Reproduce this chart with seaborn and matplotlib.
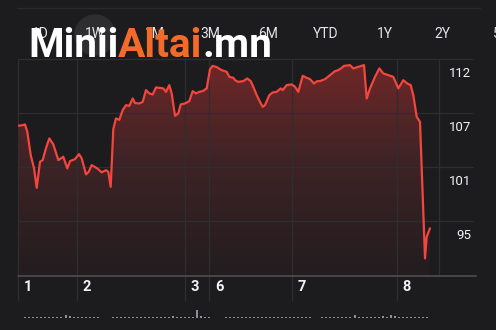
import numpy as np
import pandas as pd
import matplotlib
matplotlib.use("Agg")
import matplotlib.pyplot as plt
import matplotlib.transforms as mtrans
from matplotlib.colors import LinearSegmentedColormap
from matplotlib.patches import Ellipse
from matplotlib.lines import Line2D
import seaborn as sns

# ---------------- data ----------------
time_t = [0.3, 4.7, 7, 9.3, 12.7, 16, 18.7, 22, 24.7, 28,
          31.3, 35.3, 40.3, 45.3, 49.3, 52, 57, 61, 63.7, 68,
          70.7, 73.7, 79.3, 83.7, 88, 90.3, 92.7, 95.3, 98, 101.3,
          104.7, 108, 111.3, 114.7, 117, 121.3, 124.7, 128, 131.3, 134.7,
          138, 141.3, 145.3, 148, 151.3, 153.7, 157, 160.3, 162.7, 167,
          171.3, 174.7, 178, 181.3, 184.7, 188.7, 192, 194.7, 198.7, 203.7,
          208.7, 211.3, 215.3, 217, 220.3, 225.3, 229.3, 232.7, 235.3, 238.7,
          242, 244.7, 247, 251.3, 254.7, 258.7, 262.7, 264.7, 268.7, 273.7,
          277, 280.3, 284.7, 288.7, 292, 296, 299.3, 302, 307, 312,
          317, 320.3, 323.7, 326, 332, 335.3, 340.3, 346, 348.7, 352,
          357, 361.3, 365.3, 370.3, 375.3, 380.3, 385.3, 389.3, 392.7, 395.3,
          398.7, 402, 407, 408.7, 412]
price = [105.26, 105.33, 105.41, 104.63, 102.17, 100.79, 98.71, 101.46, 101.64, 102.91,
         103.93, 103.30, 101.64, 101.99, 100.76, 101.53, 101.74, 102.27, 101.82, 100.13,
         100.40, 101.11, 100.76, 100.34, 100.58, 100.40, 98.82, 104.91, 106.04, 105.89,
         106.92, 107.44, 107.37, 108.15, 107.66, 107.62, 107.79, 109.03, 108.68, 108.57,
         109.31, 109.27, 109.21, 108.85, 109.56, 108.68, 106.31, 106.57, 107.52, 107.62,
         107.87, 108.92, 108.68, 108.85, 108.92, 109.21, 111.24, 111.59, 111.46, 111.14,
         110.96, 110.43, 110.33, 110.08, 109.90, 109.98, 110.26, 109.98, 109.38, 108.50,
         107.79, 107.26, 107.44, 108.50, 108.78, 108.85, 109.21, 109.03, 109.56, 109.63,
         109.38, 108.85, 110.54, 110.33, 110.19, 109.73, 109.98, 109.98, 110.19, 110.61,
         111.03, 111.14, 111.38, 111.59, 111.67, 111.32, 111.49, 111.67, 108.15, 109.21,
         110.43, 111.32, 110.79, 110.61, 110.43, 109.21, 110.08, 109.73, 109.56, 108.50,
         106.21, 105.68, 91.26, 93.54, 94.43]

vol_t = [7, 11, 15, 19, 23, 27, 31, 35, 39, 43, 48, 52, 56, 60, 64, 68, 72, 76, 80,
         95, 99, 103, 107, 111, 115, 119, 123, 127, 131, 135, 139, 143, 147, 151, 155,
         159, 163, 167, 171, 175, 179, 183, 187, 191,
         208, 212, 216, 220, 224, 228, 232, 236, 240, 244, 248, 252, 256, 260, 264,
         268, 272, 276, 280, 284, 288, 292,
         304, 308, 312, 316, 320, 324, 328, 332, 337, 341, 345, 349, 353, 357, 361,
         365, 369, 373, 377, 381, 385, 389, 393, 397, 401, 405, 409]
volume = [1.5, 1, 1.5, 1, 1, 1, 0.8, 1, 1.5, 1.5, 3, 2, 1.5, 1.5, 1, 1, 0.8, 0.7, 0.7,
          1.5, 1, 0.7, 0.7, 0.7, 0.7, 0.8, 0.8, 0.8, 0.8, 1, 1, 1, 1, 1.5, 2,
          1.5, 1.5, 1.5, 1, 1.2, 8, 2, 1, 0.8,
          0.6, 0.6, 0.6, 0.6, 0.6, 0.6, 0.7, 0.7, 0.7, 0.7, 0.8, 0.8, 0.8, 0.8, 1.5,
          0.8, 0.7, 0.7, 0.6, 0.6, 0.6, 0.6,
          0.8, 0.8, 1, 0.8, 0.8, 1, 1, 1.5, 3, 1.5, 1.5, 1.5, 1.5, 1.5, 1.5,
          2, 1.5, 3, 2, 1.5, 1.5, 1.5, 1.2, 1.5, 1.5, 1, 1.5]

day_ticks = [0, 59, 167, 191, 274, 379]
day_labels = ["1", "2", "3", "6", "7", "8"]
session_end = 421
price_ticks = [95.2, 100.9, 106.6, 112.3]
price_labels = ["95", "101", "107", "112"]
range_buttons = ["1D", "1W", "1M", "3M", "6M", "YTD", "1Y", "2Y", "5Y"]
watermark = [("Minii", "#ffffff"), ("Altai", "#f26b2b"), (".mn", "#ffffff")]

# ---------------- style ----------------
BG = "#1c1c1e"
sns.set_style("dark", {"axes.facecolor": BG, "figure.facecolor": BG})
plt.rcParams["font.family"] = ["Roboto", "DejaVu Sans"]

W, H = 496, 330
fig = plt.figure(figsize=(W / 100, H / 100), dpi=100, facecolor=BG)


def fx(px):
    return px / W


def fy(py):
    return 1 - py / H


YLO, YHI = 89.4, 113.9
XLO, XHI = 0, 458

ax = fig.add_axes([fx(18), fy(276), fx(476) - fx(18), fy(44) - fy(276)])
ax.set_facecolor(BG)

df = pd.DataFrame({"t": time_t, "price": price})

# gradient area
poly = ax.fill_between(df["t"], df["price"], YLO, color="none", lw=0)
cmap = LinearSegmentedColormap.from_list("g", ["#221d1f", "#3e2326", "#7a2828"])
grad = np.linspace(0, 1, 256).reshape(-1, 1)
im = ax.imshow(grad, extent=[df["t"].min(), df["t"].max(), YLO, YHI], origin="lower",
               aspect="auto", cmap=cmap, zorder=1)
im.set_clip_path(poly.get_paths()[0], transform=ax.transData)

sns.lineplot(data=df, x="t", y="price", ax=ax, color="#f2463e", linewidth=1.6,
             estimator=None, sort=False, zorder=4)

ax.set_xlim(XLO, XHI)
ax.set_ylim(YLO, YHI)
ax.axis("off")

grid_c = "#2e2e30"
ax.hlines(price_ticks, 0, 455, color=grid_c, lw=0.9, zorder=2)
top_frac = (price_ticks[-1] - YLO) / (YHI - YLO)
for xt in day_ticks + [session_end]:
    ax.axvline(xt, ymin=-0.105 if xt != session_end else 0, ymax=top_frac,
               color=grid_c, lw=0.9, zorder=2, clip_on=False)
ax.axhline(YLO, xmin=0, xmax=1, color="#4a4a4c", lw=1.3, zorder=5, clip_on=False)

ylab_tr = mtrans.offset_copy(ax.transData, fig=fig, x=0, y=-14, units="dots")
for v, lab in zip(price_ticks, price_labels):
    ax.text(453, v, lab, ha="right", va="center", color="#f2f2f7", fontsize=9.5,
            transform=ylab_tr, zorder=6)

blend = mtrans.blended_transform_factory(ax.transData, ax.transAxes)
xlab_tr = mtrans.offset_copy(blend, fig=fig, x=10, y=-11, units="dots")
for v, lab in zip(day_ticks, day_labels):
    ax.text(v, 0, lab, ha="center", va="center", color="#f2f2f7", fontsize=10.5,
            fontweight="semibold", transform=xlab_tr, clip_on=False)

# volume
axv = fig.add_axes([fx(18), fy(318), fx(476) - fx(18), 18 / H])
axv.bar(vol_t, volume, width=1.4, color="#8e8e93", linewidth=0)
axv.set_xlim(XLO, XHI)
axv.set_ylim(0, 18)
axv.axis("off")

# top decorations
fig.add_artist(Line2D([fx(17), fx(480)], [fy(8), fy(8)], color="#2a2a2c", lw=1,
                      transform=fig.transFigure))
fig.add_artist(Ellipse((fx(95), fy(35)), width=40 / W, height=40 / H,
                       transform=fig.transFigure, color="#2e2e30", zorder=1))
btn_x = [40, 95, 155, 210, 268, 326, 385, 442, 501]
for bx, lab in zip(btn_x, range_buttons):
    fig.text(fx(bx), fy(34), lab, ha="center", va="center", color="#e5e5ea",
             fontsize=10, zorder=2)

# watermark
renderer = fig.canvas.get_renderer()


def draw_wm(fs):
    x = 28
    arts = []
    for s, c in watermark:
        t = fig.text(fx(x), fy(57), s, fontsize=fs, fontweight="bold", color=c,
                     va="baseline", ha="left", zorder=10)
        bb = t.get_window_extent(renderer)
        x += bb.width
        arts.append(t)
    return arts, x - 28


arts, width = draw_wm(28)
for a in arts:
    a.remove()
draw_wm(28 * 245 / width)

fig.savefig("out.png", dpi=100, facecolor=BG)
